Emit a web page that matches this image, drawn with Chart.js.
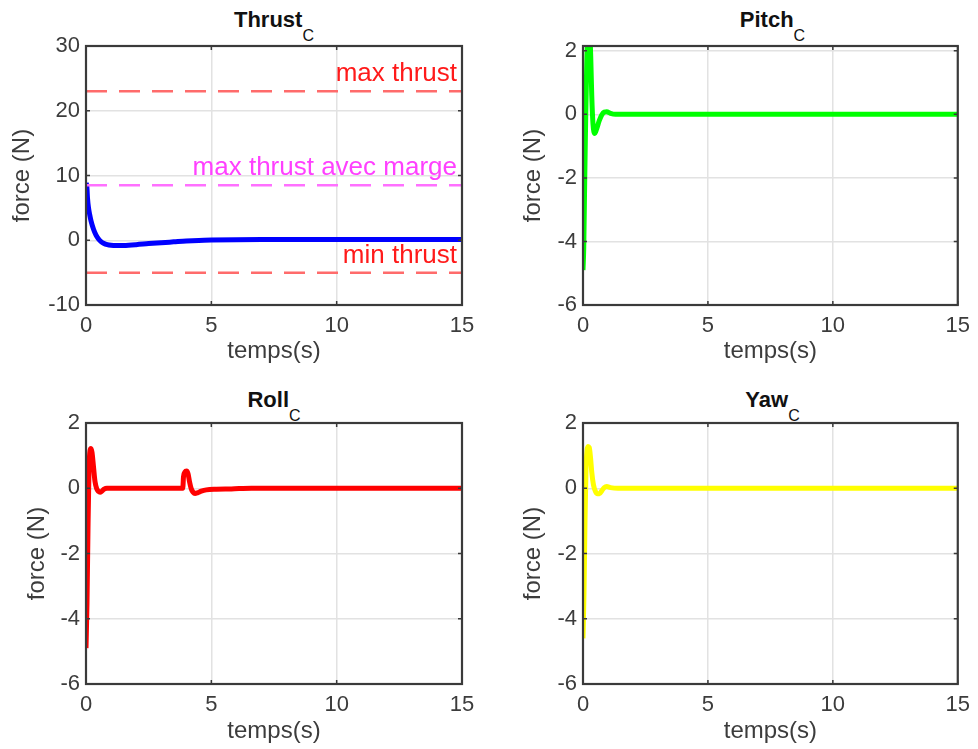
<!DOCTYPE html>
<html>
<head>
<meta charset="utf-8">
<script src="https://cdn.jsdelivr.net/npm/chart.js@4.4.0/dist/chart.umd.min.js"></script>
<style>
  body { margin: 0; background: #fff; width: 978px; height: 749px; position: relative; overflow: hidden;
         font-family: 'Liberation Sans', Arial, sans-serif; }
  canvas { position: absolute; }
  .title { position: absolute; text-align: center; font-weight: bold; font-size: 22px; line-height: 22px; color: #111; }
  .title span { font-size: 16px; font-weight: normal; position: relative; top: 14px; }
</style>
</head>
<body>
<div class="title" style="left:86px;width:376px;top:9px">Thrust<span>C</span></div>
<div class="title" style="left:583px;width:379px;top:9px">Pitch<span>C</span></div>
<div class="title" style="left:86px;width:376px;top:389px">Roll<span>C</span></div>
<div class="title" style="left:583px;width:379px;top:389px">Yaw<span>C</span></div>

<canvas id="thrust" width="489" height="374" style="left:0;top:0"></canvas>
<canvas id="pitch" width="489" height="374" style="left:489px;top:0"></canvas>
<canvas id="roll" width="489" height="374" style="left:0;top:375px"></canvas>
<canvas id="yaw" width="489" height="374" style="left:489px;top:375px"></canvas>

<script>
// values (time in s, force in N)
var xTicks = [0, 5, 10, 15];

var tThrust = [0, 0.03, 0.06, 0.1, 0.15, 0.2, 0.3, 0.4, 0.5, 0.6, 0.7, 0.85, 1.0, 1.2, 1.5, 2, 2.5, 3, 3.5, 4, 4.5, 5, 6, 7, 8, 10, 12, 15];
var fThrust = [8.8, 8.5, 6.5, 5.0, 3.9, 3.0, 1.7, 0.8, 0.2, -0.2, -0.45, -0.68, -0.78, -0.82, -0.8, -0.68, -0.52, -0.38, -0.25, -0.12, -0.03, 0.02, 0.08, 0.1, 0.1, 0.1, 0.12, 0.12];

var tPitch = [0, 0.03, 0.07, 0.11, 0.15, 0.19, 0.23, 0.27, 0.31, 0.35, 0.4, 0.47, 0.55, 0.65, 0.75, 0.85, 0.95, 1.1, 1.3, 1.6, 2, 15];
var fPitch = [-4.9, -4.2, -2.0, 0.0, 1.6, 2.5, 2.7, 2.6, 1.8, 0.6, -0.3, -0.6, -0.45, -0.2, -0.02, 0.07, 0.08, 0.03, 0, 0, 0, 0];

var tRoll = [0, 0.04, 0.08, 0.12, 0.16, 0.2, 0.24, 0.3, 0.36, 0.43, 0.5, 0.56, 0.63, 0.72, 0.83, 1.0, 2, 3, 3.86, 3.89, 3.95, 4.01, 4.07, 4.13, 4.2, 4.27, 4.35, 4.45, 4.6, 4.8, 5.2, 5.8, 6.6, 15];
var fRoll = [-4.9, -3.5, -1.2, 0.6, 1.15, 1.22, 1.1, 0.65, 0.2, -0.02, -0.1, -0.12, -0.09, -0.03, 0, 0, 0, 0, 0, 0.35, 0.5, 0.53, 0.45, 0.2, -0.02, -0.12, -0.16, -0.14, -0.09, -0.05, -0.03, -0.02, 0, 0];

var tYaw = [0, 0.04, 0.08, 0.12, 0.16, 0.2, 0.25, 0.3, 0.35, 0.42, 0.5, 0.58, 0.66, 0.75, 0.85, 0.95, 1.1, 1.4, 2, 15];
var fYaw = [-4.6, -3.2, -1.0, 0.6, 1.15, 1.28, 1.25, 0.95, 0.5, 0.1, -0.1, -0.17, -0.17, -0.08, 0.02, 0.05, 0.02, 0, 0, 0];

var limitValues = [23, 8.5, -5];
var limitLabels = ['max thrust', 'max thrust avec marge', 'min thrust'];
var limitColors = ['#ff6b6b', '#ff70ff', '#ff6b6b'];
var limitTextColors = ['#ff1a1a', '#ff40ff', '#ff1a1a'];

Chart.defaults.font.family = "'Liberation Sans', Arial, sans-serif";
Chart.defaults.color = '#3c3c3c';

function points(t, f) {
  return t.map(function(v, i) { return { x: v, y: f[i] }; });
}

// MATLAB style box with inward tick marks
var boxPlugin = {
  id: 'box',
  afterDatasetsDraw: function(chart) {
    var ctx = chart.ctx, a = chart.chartArea, sx = chart.scales.x, sy = chart.scales.y;
    ctx.save();
    ctx.strokeStyle = '#3a3a3a';
    ctx.lineWidth = 1.5;
    ctx.beginPath();
    sx.ticks.forEach(function(t) {
      var p = sx.getPixelForValue(t.value);
      ctx.moveTo(p, a.bottom); ctx.lineTo(p, a.bottom - 4);
      ctx.moveTo(p, a.top); ctx.lineTo(p, a.top + 4);
    });
    sy.ticks.forEach(function(t) {
      var p = sy.getPixelForValue(t.value);
      ctx.moveTo(a.left, p); ctx.lineTo(a.left + 4, p);
      ctx.moveTo(a.right, p); ctx.lineTo(a.right - 4, p);
    });
    ctx.stroke();
    ctx.lineWidth = 2.2;
    ctx.strokeRect(a.left, a.top, a.right - a.left, a.bottom - a.top);
    ctx.restore();
  }
};

var limitTextPlugin = {
  id: 'limitText',
  afterDatasetsDraw: function(chart) {
    if (chart.canvas.id !== 'thrust') return;
    var ctx = chart.ctx, a = chart.chartArea, sy = chart.scales.y;
    ctx.save();
    ctx.font = "26px 'Liberation Sans', Arial, sans-serif";
    ctx.textAlign = 'right';
    ctx.textBaseline = 'alphabetic';
    limitValues.forEach(function(v, i) {
      ctx.fillStyle = limitTextColors[i];
      ctx.fillText(limitLabels[i], a.right - 5, sy.getPixelForValue(v) - 10);
    });
    ctx.restore();
  }
};

function makeChart(id, cfg) {
  var datasets = cfg.extra || [];
  datasets.push({
    data: points(cfg.t, cfg.f),
    borderColor: cfg.color,
    borderWidth: 5,
    pointRadius: 0,
    cubicInterpolationMode: 'monotone',
    clip: 0
  });
  return new Chart(document.getElementById(id), {
    type: 'line',
    data: { datasets: datasets },
    plugins: [boxPlugin, limitTextPlugin],
    options: {
      responsive: false,
      animation: false,
      layout: { padding: { left: 0, top: cfg.top, right: cfg.right, bottom: 0 } },
      plugins: { legend: { display: false }, tooltip: { enabled: false } },
      scales: {
        x: {
          type: 'linear', min: 0, max: 15,
          afterBuildTicks: function(scale) {
            scale.ticks = xTicks.map(function(v) { return { value: v }; });
          },
          afterFit: function(scale) { scale.height = cfg.xh; },
          ticks: { font: { size: 22 }, padding: 8, maxRotation: 0 },
          grid: { color: '#e2e2e2', lineWidth: 1.5, drawTicks: false },
          border: { display: false },
          title: { display: true, text: 'temps(s)', font: { size: 24 }, padding: { top: 0, bottom: cfg.xtp } }
        },
        y: {
          type: 'linear', min: cfg.ymin, max: cfg.ymax,
          afterBuildTicks: function(scale) {
            var ticks = [];
            for (var v = cfg.ymin; v <= cfg.ymax + 1e-9; v += cfg.step) ticks.push({ value: v });
            scale.ticks = ticks;
          },
          afterFit: function(scale) { scale.width = cfg.yw; },
          ticks: { font: { size: 22 }, padding: 6 },
          grid: { color: '#e2e2e2', lineWidth: 1.5, drawTicks: false },
          border: { display: false },
          title: { display: true, text: 'force (N)', font: { size: 24 }, padding: { top: cfg.ytp, bottom: 0 } }
        }
      }
    }
  });
}

var thrustLimitSets = limitValues.map(function(v, i) {
  return {
    data: [{ x: 0, y: v }, { x: 15, y: v }],
    borderColor: limitColors[i],
    borderWidth: 2.5,
    borderDash: [21, 12],
    pointRadius: 0,
    clip: 0
  };
});

makeChart('thrust', { t: tThrust, f: fThrust, color: '#0000ff', ymin: -10, ymax: 30, step: 10,
  top: 46, right: 27, yw: 86, xh: 69, ytp: 7.6, xtp: 8.6, extra: thrustLimitSets });
makeChart('pitch', { t: tPitch, f: fPitch, color: '#00ff00', ymin: -6, ymax: 2.15, step: 2,
  top: 46, right: 16, yw: 94, xh: 69, ytp: 29.6, xtp: 8.6 });
makeChart('roll', { t: tRoll, f: fRoll, color: '#ff0000', ymin: -6, ymax: 2, step: 2,
  top: 48, right: 27, yw: 86, xh: 65, ytp: 22.6, xtp: 3 });
makeChart('yaw', { t: tYaw, f: fYaw, color: '#ffff00', ymin: -6, ymax: 2, step: 2,
  top: 48, right: 16, yw: 94, xh: 65, ytp: 29.6, xtp: 3 });
</script>
</body>
</html>
